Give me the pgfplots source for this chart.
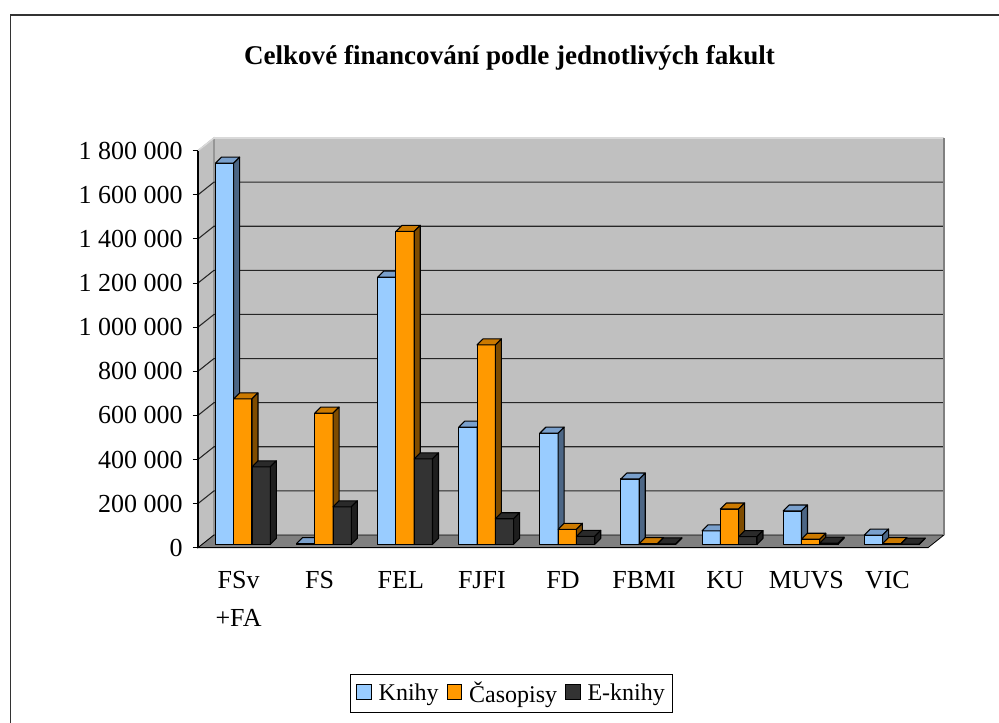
\documentclass[border=0pt]{standalone}
\usepackage{fontspec}
\setmainfont{Liberation Serif}
\usepackage{pgfplots}
\pgfplotsset{compat=1.18}
\usepackage{pgfplotstable}

\definecolor{kfront}{HTML}{99CCFF}
\definecolor{ktop}{HTML}{7AA0CC}
\definecolor{kside}{HTML}{4C6685}
\definecolor{cfront}{HTML}{FF9900}
\definecolor{ctop}{HTML}{CC7A00}
\definecolor{cside}{HTML}{7F4C00}
\definecolor{efront}{HTML}{333333}
\definecolor{etop}{HTML}{2A2A2A}
\definecolor{eside}{HTML}{1E1E1E}
\definecolor{wall}{HTML}{C0C0C0}
\definecolor{floorc}{HTML}{808080}
\definecolor{framec}{HTML}{333333}

% values in thousands
\pgfplotstableread{
c K C E
0 1728 659 351
1 3 595 170
2 1211 1419 387
3 531 904 116
4 504 68 36
5 296 3 2
6 61 160 35
7 151 23 5
8 42 3 1
}\data

\def\dxw{0.197}
\def\dyw{57.6}
\def\dxb{0.074}
\def\dyb{27.2}
\def\dxo{0.053}
\def\dyo{15.4}
\def\bw{0.2256}

\newcommand\drawbar[5]{%
  \pgfmathsetmacro\xl{#1}%
  \pgfmathsetmacro\xr{\xl+\bw}%
  \pgfmathsetmacro\yb{\dyo}%
  \pgfmathsetmacro\yt{\dyo+#2}%
  \pgfmathsetmacro\xlb{\xl+\dxb}%
  \pgfmathsetmacro\xrb{\xr+\dxb}%
  \pgfmathsetmacro\ybb{\yb+\dyb}%
  \pgfmathsetmacro\ytb{\yt+\dyb}%
  \edef\tmp{%
    \noexpand\addplot[forget plot, fill=#3, draw=black, line width=0.8pt, line join=round] coordinates {(\xl,\yb) (\xr,\yb) (\xr,\yt) (\xl,\yt)} -- cycle;
    \noexpand\addplot[forget plot, fill=#4, draw=black, line width=0.8pt, line join=round] coordinates {(\xl,\yt) (\xr,\yt) (\xrb,\ytb) (\xlb,\ytb)} -- cycle;
    \noexpand\addplot[forget plot, fill=#5, draw=black, line width=0.8pt, line join=round] coordinates {(\xr,\yb) (\xrb,\ybb) (\xrb,\ytb) (\xr,\yt)} -- cycle;
  }%
  \tmp}

\begin{document}
\begin{tikzpicture}[x=0.75pt,y=0.75pt]
\path[use as bounding box] (0,0) rectangle (999,722);
\draw[color=framec, line width=1.2pt] (10.5,-2) -- (10.5,707) -- (1001,707);
\node[font=\bfseries\fontsize{20.3}{24}\selectfont, anchor=base] at (509.5,657) {Celkové financování podle jednotlivých fakult};

\begin{axis}[
  at={(148.5pt,130.725pt)}, anchor=south west,
  scale only axis,
  width=547.5pt, height=297.75pt,
  xmin=-0.5, xmax=8.5, ymin=0, ymax=1800,
  clip=false,
  axis on top,
  axis x line*=bottom, axis y line*=left,
  axis line style={line width=0.8pt, black},
  tick align=outside,
  ytick={0,200,...,1800},
  yticklabels={0,200 000,400 000,600 000,800 000,1 000 000,1 200 000,1 400 000,1 600 000,1 800 000},
  xtick={0,...,8},
  xticklabels={{FSv\\+FA},FS,FEL,FJFI,FD,FBMI,KU,MUVS,VIC},
  minor xtick={-0.5,0.5,...,8.5},
  xtick style={draw=none},
  minor tick length=5pt,
  major tick length=4pt,
  ytick style={line width=0.8pt, black},
  minor x tick style={line width=0.8pt, black},
  tick label style={font=\fontsize{19.5}{29}\selectfont},
  xticklabel style={align=center, anchor=north, yshift=-10pt},
  yticklabel style={xshift=-4pt},
  legend style={at={(0.430,-0.367)}, anchor=center, legend columns=-1, draw=black, line width=0.8pt,
     font=\fontsize{18}{21}\selectfont, inner xsep=4pt, inner ysep=4pt,
     /tikz/every odd column/.append style={column sep=3pt},
     /tikz/every even column/.append style={column sep=4pt}},
  legend image code/.code={\draw[#1, line width=0.8pt] (0pt,-4.5pt) rectangle (11pt,6.5pt);},
]
% back wall
\addplot[forget plot, fill=wall, draw=none] coordinates {(-0.303,57.6) (8.697,57.6) (8.697,1857.6) (-0.303,1857.6)} -- cycle;
% left wall
\addplot[forget plot, fill=wall, draw=floorc, line width=0.8pt] coordinates {(-0.5,0) (-0.303,57.6) (-0.303,1857.6) (-0.5,1800)} -- cycle;
% floor
\addplot[forget plot, fill=floorc, draw=black, line width=0.6pt] coordinates {(-0.5,0) (8.5,0) (8.697,57.6) (-0.303,57.6)} -- cycle;
% grid lines
\pgfplotsinvokeforeach{200,400,...,1600}{%
  \pgfmathsetmacro\gy{#1+\dyw}%
  \edef\tmp{\noexpand\addplot[forget plot, draw=black!85, line width=0.8pt] coordinates {(-0.5,#1) (-0.303,\gy) (8.697,\gy)};}%
  \tmp
}
% wall edges
\addplot[forget plot, draw=black!15, line width=1.2pt] coordinates {(-0.5,1800) (-0.303,1857.6) (8.697,1857.6)};
\addplot[forget plot, draw=floorc, line width=1.6pt] coordinates {(8.697,57.6) (8.697,1857.6)};
% bars
\pgfplotsinvokeforeach{0,...,8}{%
  \pgfplotstablegetelem{#1}{K}\of\data \let\vK\pgfplotsretval
  \pgfplotstablegetelem{#1}{C}\of\data \let\vC\pgfplotsretval
  \pgfplotstablegetelem{#1}{E}\of\data \let\vE\pgfplotsretval
  \pgfmathsetmacro\gx{#1+\dxo-1.5*\bw}%
  \let\gxa\gx
  \drawbar{\gxa}{\vK}{kfront}{ktop}{kside}%
  \pgfmathsetmacro\gxb{\gxa+\bw}%
  \drawbar{\gxb}{\vC}{cfront}{ctop}{cside}%
  \pgfmathsetmacro\gxc{\gxa+2*\bw}%
  \drawbar{\gxc}{\vE}{efront}{etop}{eside}%
}
\addlegendimage{fill=kfront, draw=black}
\addlegendentry{Knihy}
\addlegendimage{fill=cfront, draw=black}
\addlegendentry{Časopisy}
\addlegendimage{fill=efront, draw=black}
\addlegendentry{E-knihy}
\end{axis}
\end{tikzpicture}
\end{document}
